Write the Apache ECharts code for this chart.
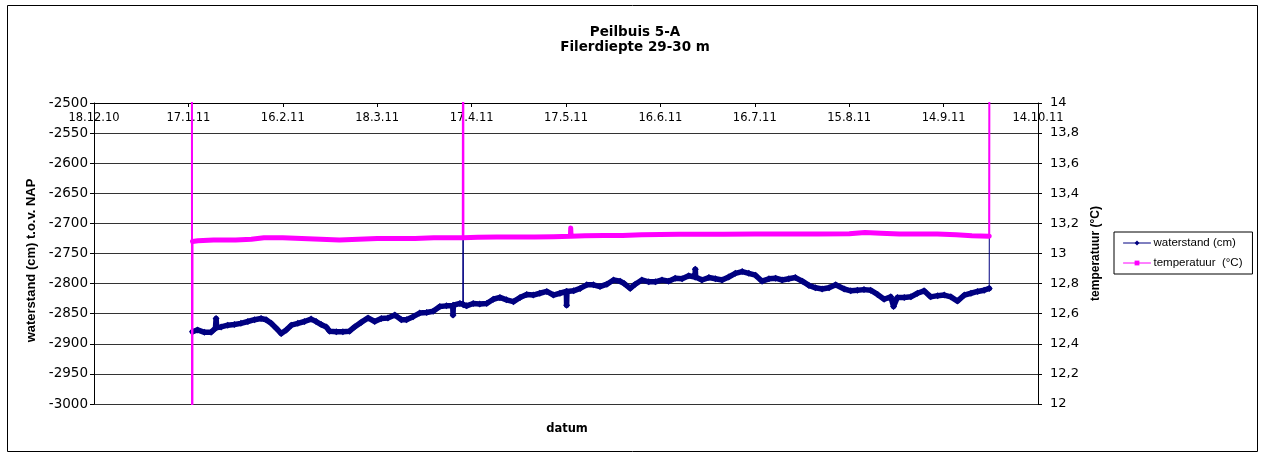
<!DOCTYPE html>
<html>
<head>
<meta charset="utf-8">
<title>Peilbuis 5-A</title>
<script src="https://cdn.jsdelivr.net/npm/echarts@6/dist/echarts.min.js"></script>
<style>
  html, body { margin: 0; padding: 0; background: #fff; }
  #chart { width: 1261px; height: 457px; }
</style>
</head>
<body>
<div id="chart"></div>
<script>
// Date axis: days counted from 18.12.10, one tick every 30 days
const dateLabels = ['18.12.10', '17.1.11', '16.2.11', '18.3.11', '17.4.11', '17.5.11',
                    '16.6.11', '16.7.11', '15.8.11', '14.9.11', '14.10.11'];

// Water level (cm t.o.v. NAP), logger readings
const levelDays = [
  31.1, 31.3, 32.9, 35.1, 37.2, 38.6, 38.8, 39.0, 40.4, 42.5, 44.6, 46.7, 48.9, 51.0, 53.1,
  54.7, 56.3, 57.9, 59.5, 61.1, 62.7, 64.8, 66.9, 69.0, 70.6, 72.2, 73.8, 74.9, 77.0, 79.1,
  81.2, 82.8, 85.0, 87.1, 89.2, 91.3, 93.4, 95.6, 97.7, 99.3, 101.4, 103.5, 105.7, 107.8,
  109.9, 112.0, 114.0, 114.1, 114.2, 116.3, 117.2, 117.3, 117.4, 118.4, 120.5, 122.6, 124.8,
  126.9, 129.0, 131.1, 133.3, 135.4, 137.5, 139.6, 141.7, 143.9, 146.0, 148.1, 150.1, 150.2,
  150.3, 152.4, 154.5, 156.6, 158.7, 160.8, 163.0, 165.1, 167.2, 168.5, 170.4, 172.0, 174.1,
  176.3, 178.4, 180.5, 182.6, 184.7, 186.9, 189.0, 191.0, 191.1, 191.2, 193.2, 195.4, 197.5,
  199.6, 201.7, 203.8, 206.0, 208.1, 210.2, 212.3, 214.5, 216.6, 218.7, 220.8, 222.9, 225.1,
  227.2, 229.3, 231.4, 233.6, 235.7, 238.4, 240.5, 242.6, 244.7, 246.8, 249.0, 251.1, 253.2,
  254.1, 255.3, 257.5, 259.6, 261.7, 263.8, 265.9, 268.1, 270.2, 272.3, 274.4, 276.6, 278.7,
  280.8, 282.9, 284.5, 284.6
];
const levelValues = [
  -2400, -2880, -2877, -2881, -2881, -2874, -2858, -2873, -2872, -2869, -2868, -2866, -2863, -2860, -2858,
  -2860, -2866, -2874, -2883, -2877, -2869, -2866, -2863, -2859, -2863, -2868, -2872, -2879, -2880, -2880,
  -2879, -2872, -2864, -2857, -2863, -2858, -2857, -2852, -2860, -2860, -2855, -2849, -2848, -2846,
  -2838, -2837, -2837, -2852, -2836, -2833, -2834, -2400, -2835, -2837, -2833, -2834, -2833,
  -2826, -2823, -2827, -2830, -2823, -2818, -2819, -2816, -2813, -2819, -2816, -2813, -2836,
  -2813, -2812, -2808, -2802, -2802, -2805, -2801, -2794, -2796, -2800, -2808, -2801, -2794,
  -2797, -2797, -2794, -2796, -2791, -2792, -2787, -2789, -2776, -2789, -2794, -2790, -2792,
  -2794, -2789, -2783, -2780, -2783, -2786, -2796, -2792, -2791, -2794, -2792, -2790, -2796,
  -2803, -2807, -2809, -2807, -2802, -2809, -2812, -2811, -2810, -2811, -2818, -2826, -2822,
  -2838, -2823, -2823, -2822, -2816, -2812, -2822, -2820, -2819, -2822, -2829, -2819, -2816,
  -2813, -2811, -2808, -2400
];

// Temperature (°C), logger readings
const tempDays = [
  31.1, 31.2, 31.3, 33, 38, 45, 50, 54, 60, 66, 72, 78, 84, 90, 96, 102, 108, 114,
  117.2, 117.3, 117.4, 122, 128, 134, 140, 146, 151.4, 151.5, 151.6, 156, 162, 168, 174,
  180, 186, 192, 200, 210, 220, 230, 240, 245, 250, 256, 262, 268, 274, 279, 284.5, 284.6
];
const tempValues = [
  15.5, 9.5, 13.08, 13.085, 13.09, 13.09, 13.095, 13.105, 13.105, 13.1, 13.095, 13.09, 13.095,
  13.1, 13.1, 13.1, 13.105, 13.105, 13.105, 15.5, 13.105, 13.108, 13.11, 13.11, 13.11, 13.112,
  13.115, 13.17, 13.115, 13.118, 13.12, 13.12, 13.125, 13.127, 13.128, 13.128, 13.128, 13.13,
  13.13, 13.13, 13.132, 13.14, 13.135, 13.13, 13.13, 13.13, 13.125, 13.118, 13.115, 15.5
];

const LEVEL_MIN = -3000, LEVEL_MAX = -2500;
const TEMP_MIN = 12, TEMP_MAX = 14;

const LEVEL_NAME = 'waterstand (cm)';
const TEMP_NAME = 'temperatuur  (°C)';
const BLUE = '#000080';
const MAGENTA = '#ff00ff';

function pairs(days, values) {
  return days.map((d, i) => [d, values[i]]);
}
// the dense marker band only covers readings inside the axis range
function band(days, values, lo, hi) {
  return days.map((d, i) => [d, values[i] >= lo && values[i] <= hi ? values[i] : '-']);
}

const chart = echarts.init(document.getElementById('chart'), null, { renderer: 'canvas' });

const labelFont = 'DejaVu Sans';

chart.setOption({
  animation: false,
  backgroundColor: '#fff',
  graphic: [
    { type: 'rect', shape: { x: 7.5, y: 5.5, width: 1250, height: 446 },
      style: { fill: 'none', stroke: '#000', lineWidth: 1 }, z: -1 },
    { type: 'text', x: 635, y: 32,
      style: { text: 'Peilbuis 5-A', textAlign: 'center', textVerticalAlign: 'middle',
               font: 'bold 13.5px "DejaVu Sans"', fill: '#000' } },
    { type: 'text', x: 635, y: 47,
      style: { text: 'Filerdiepte 29-30 m', textAlign: 'center', textVerticalAlign: 'middle',
               font: 'bold 13.5px "DejaVu Sans"', fill: '#000' } },
    { type: 'text', x: 567, y: 429,
      style: { text: 'datum', textAlign: 'center', textVerticalAlign: 'middle',
               font: 'bold 11.5px "DejaVu Sans"', fill: '#000' } }
  ],
  legend: {
    orient: 'vertical',
    left: 1114,
    top: 232,
    padding: [5, 10, 5, 9],
    itemGap: 8,
    itemWidth: 27,
    itemHeight: 6,
    borderColor: '#000',
    borderWidth: 1,
    backgroundColor: '#fff',
    data: [LEVEL_NAME, TEMP_NAME],
    lineStyle: { width: 1 },
    textStyle: { fontFamily: 'Liberation Sans', fontSize: 11.5, color: '#000', padding: [0, 0, 0, -2] }
  },
  grid: { left: 94, top: 103, width: 944, height: 301, containLabel: false },
  xAxis: {
    type: 'value',
    position: 'top',
    min: 0,
    max: 300,
    interval: 30,
    axisLine: { show: true, onZero: false, lineStyle: { color: '#000', width: 1 } },
    axisTick: { show: true, inside: true, length: 4, lineStyle: { color: '#000' } },
    axisLabel: {
      inside: true, margin: 9, showMinLabel: true, showMaxLabel: true,
      fontFamily: labelFont, fontSize: 11.5, color: '#000',
      formatter: v => dateLabels[Math.round(v / 30)]
    },
    splitLine: { show: false }
  },
  yAxis: [
    {
      type: 'value',
      position: 'left',
      min: LEVEL_MIN,
      max: LEVEL_MAX,
      interval: 50,
      name: 'waterstand (cm) t.o.v. NAP',
      nameLocation: 'middle',
      nameRotate: 90,
      nameGap: 50,
      nameTextStyle: { fontFamily: 'Liberation Sans', fontWeight: 'bold', fontSize: 13, color: '#000',
                       padding: [0, 0, 0, -14] },
      axisLine: { show: true, lineStyle: { color: '#000', width: 1 } },
      axisTick: { show: true, length: 4, lineStyle: { color: '#000' } },
      axisLabel: { margin: 6, fontFamily: labelFont, fontSize: 13.5, color: '#000',
                   formatter: v => String(v) },
      splitLine: { show: true, lineStyle: { color: '#333', width: 1 } }
    },
    {
      type: 'value',
      position: 'right',
      min: TEMP_MIN,
      max: TEMP_MAX,
      interval: 0.2,
      name: 'temperatuur (°C)',
      nameLocation: 'middle',
      nameRotate: 90,
      nameGap: 44,
      nameTextStyle: { fontFamily: 'Liberation Sans', fontWeight: 'bold', fontSize: 12, color: '#000' },
      axisLine: { show: true, lineStyle: { color: '#000', width: 1 } },
      axisTick: { show: true, length: 4, lineStyle: { color: '#000' } },
      axisLabel: {
        margin: 12, fontFamily: labelFont, fontSize: 13, color: '#000',
        formatter: v => String(Math.round(v * 10) / 10).replace('.', ',')
      },
      splitLine: { show: false }
    }
  ],
  series: [
    {
      name: LEVEL_NAME, type: 'line', yAxisIndex: 0,
      data: band(levelDays, levelValues, LEVEL_MIN, LEVEL_MAX),
      symbol: 'diamond', symbolSize: 7, showSymbol: true, showAllSymbol: true, connectNulls: false,
      itemStyle: { color: BLUE },
      lineStyle: { color: BLUE, width: 5.5, join: 'round', cap: 'round' },
      clip: true, z: 2
    },
    {
      name: LEVEL_NAME, type: 'line', yAxisIndex: 0,
      data: pairs(levelDays, levelValues),
      symbol: 'diamond', showSymbol: false,
      itemStyle: { color: BLUE },
      lineStyle: { color: BLUE, width: 1 },
      clip: true, z: 2
    },
    {
      name: TEMP_NAME, type: 'line', yAxisIndex: 1,
      data: band(tempDays, tempValues, TEMP_MIN, TEMP_MAX),
      symbol: 'rect', symbolSize: 6, showSymbol: false, connectNulls: false,
      itemStyle: { color: MAGENTA },
      lineStyle: { color: MAGENTA, width: 5, join: 'round', cap: 'round' },
      clip: true, z: 3
    },
    {
      name: TEMP_NAME, type: 'line', yAxisIndex: 1,
      data: pairs(tempDays, tempValues),
      symbol: 'rect', showSymbol: false,
      itemStyle: { color: MAGENTA },
      lineStyle: { color: MAGENTA, width: 2 },
      clip: true, z: 3
    }
  ]
});
</script>
</body>
</html>
